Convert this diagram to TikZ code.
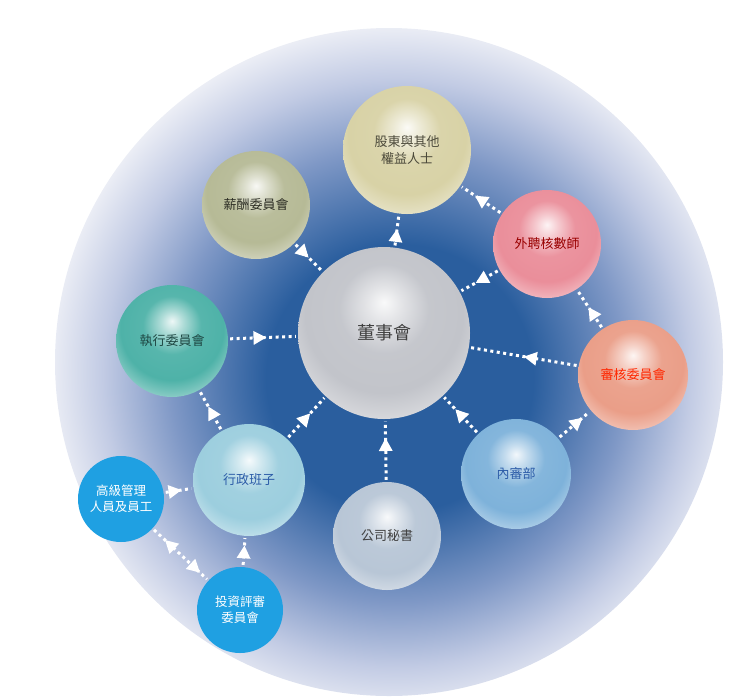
\documentclass[tikz,border=0pt]{standalone}
\usepackage{fontspec}
\newfontfamily\cjk{Noto Sans CJK TC}
\usetikzlibrary{arrows.meta,decorations.markings}

\definecolor{deep}{HTML}{2A5E9E}
\definecolor{mid}{HTML}{7F98C6}
\definecolor{pale}{HTML}{C2CBE4}
\definecolor{rim}{HTML}{EDEFF6}
\definecolor{silver}{HTML}{C2C4CA}
\definecolor{cream}{HTML}{D8D2A6}
\definecolor{olive}{HTML}{B6BA96}
\definecolor{pink}{HTML}{EA8E9A}
\definecolor{teal}{HTML}{4EB2A8}
\definecolor{salmon}{HTML}{EA9E88}
\definecolor{sky}{HTML}{7EB2DA}
\definecolor{ice}{HTML}{9CCEDE}
\definecolor{mist}{HTML}{B8C6D6}
\definecolor{flat}{HTML}{1FA0E2}
\definecolor{navytxt}{HTML}{2C5CA8}

\makeatletter
% pearl look: light top, body colour, pale rim at the bottom
\pgfdeclareradialshading[tikz@ball]{pearl}{\pgfpoint{0bp}{9bp}}{%
  color(0bp)=(tikz@ball!10!white);
  color(5bp)=(tikz@ball!45!white);
  color(13bp)=(tikz@ball!95!white);
  color(23bp)=(tikz@ball);
  color(29bp)=(tikz@ball!70!white);
  color(34bp)=(tikz@ball!25!white);
  color(60bp)=(tikz@ball!25!white)}
\makeatother

\pgfdeclareradialshading{halo}{\pgfpoint{1bp}{-1.5bp}}{%
  color(0bp)=(deep); color(10bp)=(deep); color(17bp)=(mid);
  color(22bp)=(pale); color(26bp)=(rim); color(50bp)=(white)}

\tikzset{
  bead/.style={circle, inner sep=0pt, minimum size=112pt, ball color=#1, shading=pearl,
    align=center, font=\cjk\fontsize{13}{17}\selectfont},
  tag/.style={circle, inner sep=0pt, minimum size=86pt, fill=flat, text=white,
    align=center, font=\cjk\fontsize{12.5}{16}\selectfont},
  dots/.style={draw=white, line width=3pt, dash pattern=on 3pt off 3.5pt,
    shorten <=2pt, shorten >=2pt},
  link/.style={dots, postaction={decorate, decoration={markings,
    mark=at position #1 with {\arrow{Triangle[length=13pt,width=13pt]}}}}},
  link/.default=0.6,
  both/.style={dots, postaction={decorate, decoration={markings,
    mark=at position 0.22 with {\arrowreversed{Triangle[length=13pt,width=13pt]}},
    mark=at position 0.85 with {\arrow{Triangle[length=13pt,width=13pt]}}}}},
}

\begin{document}
\begin{tikzpicture}[x=1pt, y=-1pt]
    \useasboundingbox (0,0) rectangle (741,697);
    \shade[shading=halo] (389,362) circle[radius=334pt];

    % spheres
    \node[bead=silver, minimum size=172pt, text=black!75,
          font=\cjk\fontsize{18}{22}\selectfont]      (board)   at (384,333) {董事會};
    \node[bead=cream, minimum size=128pt, text=black!65!cream] (owners) at (407,150) {股東與其他\\權益人士};
    \node[bead=olive, minimum size=108pt, text=black!75!olive] (pay)     at (256,205) {薪酬委員會};
    \node[bead=pink, minimum size=108pt, text=red!60!black]   (auditor) at (547,244) {外聘核數師};
    \node[bead=teal, text=black!60!teal]                     (exec)    at (172,341) {執行委員會};
    \node[bead=salmon, minimum size=110pt, text=red!70!orange] (audit) at (633,375) {審核委員會};
    \node[bead=sky, minimum size=110pt, text=navytxt]         (inaudit) at (516,474) {內審部};
    \node[bead=ice, text=navytxt]                            (team)    at (249,480) {行政班子};
    \node[bead=mist, minimum size=108pt, text=black!75]       (sec)     at (387,536) {公司秘書};
    \node[tag] (staff)  at (121,499) {高級管理\\人員及員工};
    \node[tag] (invest) at (240,610) {投資評審\\委員會};

    % links
    \draw[link=0.55] (board) -- (owners);
    \draw[link=0.65] (auditor) -- (owners);
    \draw[link=0.6]  (auditor) -- (board);
    \draw[link=0.55] (audit) -- (auditor);
    \draw[link=0.5]  (audit) -- (board);
    \draw[link=0.75] (inaudit) -- (audit);
    \draw[link=0.65] (inaudit) -- (board);
    \draw[link=0.7]  (sec) -- (board);
    \draw[link=0.6]  (team) -- (board);
    \draw[link=0.6]  (team) -- (exec);
    \draw[link=0.55] (exec) -- (board);
    \draw[link=0.5]  (pay) -- (board);
    \draw[link=0.6]  (staff) -- (team);
    \draw[link=0.7]  (invest) -- (team);
    \draw[both]      (staff) -- (invest);
\end{tikzpicture}
\end{document}
